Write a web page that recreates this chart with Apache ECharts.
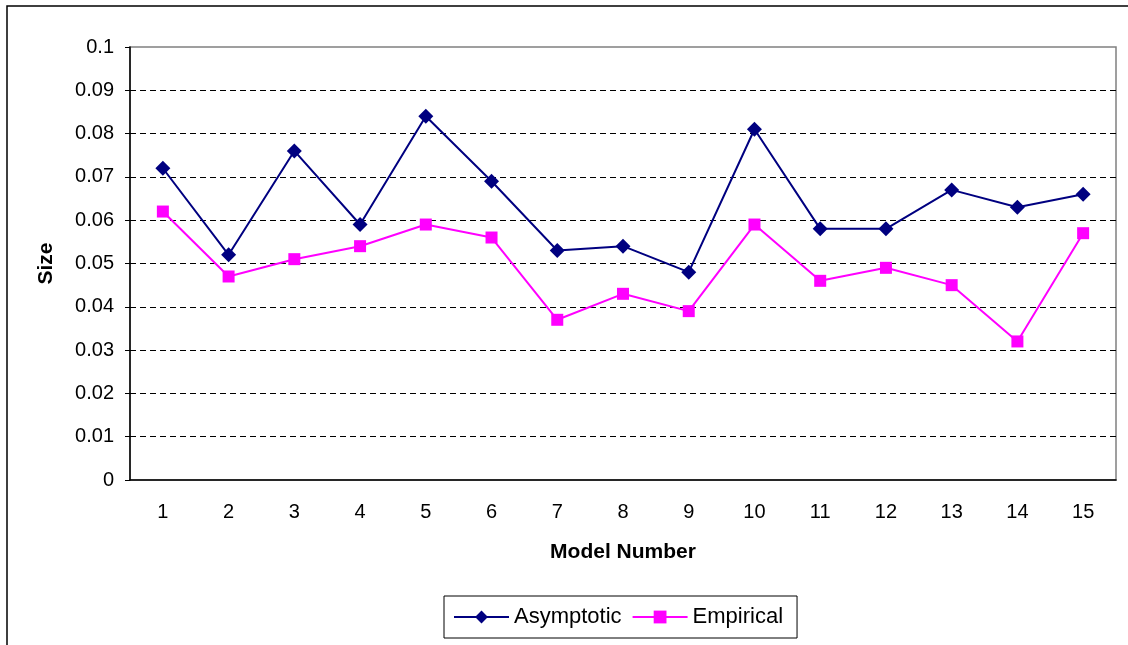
<!DOCTYPE html>
<html><head><meta charset="utf-8">
<script src="https://cdn.jsdelivr.net/npm/echarts@6/dist/echarts.min.js"></script>
<style>html,body{margin:0;padding:0;background:#fff}#c{width:1128px;height:645px}</style>
</head><body><div id="c"></div>
<script>
const categories = ['1','2','3','4','5','6','7','8','9','10','11','12','13','14','15'];
const asymptotic = [0.072,0.052,0.076,0.059,0.084,0.069,0.053,0.054,0.048,0.081,0.058,0.058,0.067,0.063,0.066];
const empirical  = [0.062,0.047,0.051,0.054,0.059,0.056,0.037,0.043,0.039,0.059,0.046,0.049,0.045,0.032,0.057];

const chart = echarts.init(document.getElementById('c'));
const font = 'Liberation Sans, Arial, sans-serif';
chart.setOption({
  animation:false,
  backgroundColor:'#fff',
  graphic:[{type:'rect',shape:{x:7,y:6,width:1200,height:800},style:{fill:'none',stroke:'#000',lineWidth:1.5},silent:true,z:-1}],
  grid:{left:130,right:12,top:47,bottom:165,show:true,borderColor:'#808080',borderWidth:1.5,backgroundColor:'transparent'},
  legend:{
    left:444,top:596,
    data:['Asymptotic','Empirical'],
    itemWidth:55,itemHeight:16,itemGap:10,
    borderColor:'#000',borderWidth:1,padding:[10,14,10,9],
    textStyle:{fontFamily:font,fontSize:22,color:'#000'}
  },
  xAxis:{
    type:'category',data:categories,boundaryGap:true,
    name:'Model Number',nameLocation:'middle',nameGap:62,
    nameTextStyle:{fontFamily:font,fontSize:21,fontWeight:'bold',color:'#000'},
    axisLine:{lineStyle:{color:'#000',width:1.5}},
    axisTick:{show:false},
    axisLabel:{fontFamily:font,fontSize:20,color:'#000',margin:22}
  },
  yAxis:{
    type:'value',min:0,max:0.1,interval:0.01,
    name:'Size',nameLocation:'middle',nameGap:73,nameRotate:90,
    nameTextStyle:{fontFamily:font,fontSize:21,fontWeight:'bold',color:'#000'},
    axisLine:{show:true,lineStyle:{color:'#000',width:1.5}},
    axisTick:{show:true,inside:false,length:5,lineStyle:{color:'#000'}},
    axisLabel:{fontFamily:font,fontSize:20,color:'#000',margin:16,formatter:v=>String(+v.toFixed(2))},
    splitLine:{show:true,showMinLine:false,showMaxLine:false,lineStyle:{color:'#000',type:[6,4],width:1}}
  },
  series:[
    {name:'Asymptotic',type:'line',data:asymptotic,symbol:'diamond',symbolSize:15,
     lineStyle:{color:'#000080',width:2},itemStyle:{color:'#000080'}},
    {name:'Empirical',type:'line',data:empirical,symbol:'rect',symbolSize:12,
     lineStyle:{color:'#FF00FF',width:2},itemStyle:{color:'#FF00FF'}}
  ]
});
</script></body></html>
